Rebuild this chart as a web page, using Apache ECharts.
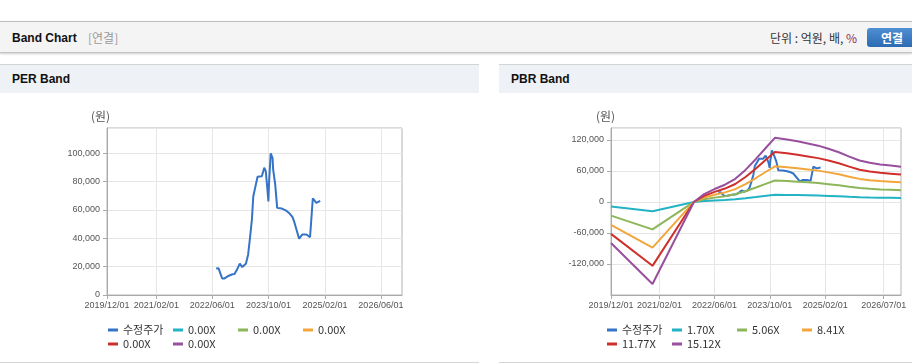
<!DOCTYPE html>
<html><head><meta charset="utf-8">
<script src="https://cdn.jsdelivr.net/npm/echarts@6/dist/echarts.min.js"></script>
<style>
html,body{margin:0;padding:0;background:#fff;width:912px;height:364px;overflow:hidden;font-family:"Liberation Sans","Noto Sans CJK KR",sans-serif;}
.a{position:absolute;}
#topbar{left:0;top:21px;width:912px;height:30px;background:#f4f4f4;border-top:1px solid #bdbdbd;border-bottom:1px solid #c4c4c4;box-shadow:0 1px 2px rgba(0,0,0,0.2);}
.ph{top:64px;height:28px;background:#eef2f7;border-top:1px solid #d3d3d3;}
.bl{top:362px;height:1px;background:#d6d6d6;}
.t{line-height:20px;white-space:nowrap;}
#c{left:0;top:0;width:912px;height:364px;z-index:2;}
</style></head><body>
<div class="a" id="topbar"></div>
<div class="a t" style="left:12px;top:28px;font-weight:bold;font-size:12px;color:#111;">Band Chart</div>
<div class="a t" style="left:88px;top:28px;font-size:12px;color:#9a9a9a;font-family:'Noto Sans CJK KR';">[연결]</div>
<div class="a t" style="left:770px;top:28px;font-size:12px;color:#333;font-family:'Noto Sans CJK KR';">단위 : 억원, 배, <span style="color:#8e2f55">%</span></div>
<div class="a t" style="left:867px;top:28px;width:50px;height:19px;line-height:19px;border-radius:3px;background:linear-gradient(#4f8fd3,#2c6ab2);color:#fff;font-weight:bold;font-size:12px;font-family:'Noto Sans CJK KR';text-align:center;">연결</div>
<div class="a ph" style="left:0;width:479px;"></div>
<div class="a ph" style="left:499px;width:413px;"></div>
<div class="a t" style="left:12px;top:69px;font-weight:bold;font-size:12px;color:#111;">PER Band</div>
<div class="a t" style="left:511px;top:69px;font-weight:bold;font-size:12px;color:#111;">PBR Band</div>
<div class="a bl" style="left:0;width:479px;"></div>
<div class="a bl" style="left:499px;width:413px;"></div>
<div class="a" id="c"></div>
<script>
// ---- data ----
const priceDates = ['2022-07-04','2022-07-25','2022-08-25','2022-09-15','2022-10-22','2022-11-22','2022-12-10','2022-12-29',
  '2023-01-25','2023-02-15','2023-02-27','2023-03-19','2023-04-07','2023-04-25','2023-05-10','2023-05-22','2023-06-07',
  '2023-06-28','2023-08-04','2023-08-25','2023-09-07','2023-09-19','2023-09-30','2023-10-06','2023-10-20','2023-11-05',
  '2023-11-10','2023-11-28','2023-12-15','2024-01-25','2024-03-03','2024-04-01','2024-04-25','2024-05-12','2024-06-22',
  '2024-07-19','2024-08-25','2024-09-25','2024-10-19','2024-11-18','2024-12-22'];
const priceValues = [18600,18800,11700,11700,13600,14600,14800,17400,
  22100,19700,18800,22100,28400,41400,53200,69600,75500,
  83300,83700,89700,87300,76700,66000,80000,99800,96500,
  88500,78000,61400,60900,59400,57400,55000,51300,39700,
  42600,42600,40700,68200,64900,66400];

const bandDates = ['2019-12-01','2020-12-01','2021-12-01','2022-03-01','2022-06-01','2022-09-01','2022-12-01','2023-03-01',
  '2023-06-01','2023-09-01','2023-11-15','2024-03-01','2024-06-01','2024-09-01','2024-12-01','2025-03-01','2025-06-01',
  '2025-09-01','2025-12-01','2026-03-01','2026-06-01','2026-09-01','2026-12-01'];
const pbrBand1 = [-8925,-17850,0,1700,2805,3740,5015,6970,9350,11900,13940,13600,13175,12716,12240,11560,10795,9860,9010,8500,8160,7905,7650];
const pbrBand2 = [-26565,-53130,0,5060,8349,11132,14927,20746,27830,35420,41492,40480,39215,37849,36432,34408,32131,29348,26818,25300,24288,23529,22770];
const pbrBand3 = [-44153,-88305,0,8410,13877,18502,24810,34481,46255,58870,68962,67280,65178,62907,60552,57188,53404,48778,44573,42050,40368,39107,37845];
const pbrBand4 = [-61793,-123585,0,11770,19421,25894,34722,48257,64735,82390,96514,94160,91218,88040,84744,80036,74740,68266,62381,58850,56496,54731,52965];
const pbrBand5 = [-79380,-158760,0,15120,24948,33264,44604,61992,83160,105840,123984,120960,117180,113098,108864,102816,96012,87696,80136,75600,72576,70308,68040];

const priceName = '수정주가';
const perBandNames = ['0.00X','0.00X','0.00X','0.00X','0.00X'];
const pbrBandNames = ['1.70X','5.06X','8.41X','11.77X','15.12X'];

const perXTicks = ['2019/12/01','2021/02/01','2022/06/01','2023/10/01','2025/02/01','2026/06/01'];
const pbrXTicks = ['2019/12/01','2021/02/01','2022/06/01','2023/10/01','2025/02/01','2026/07/01'];
const xRange = ['2019-12-01','2026-12-01'];
const perYRange = [0, 117700];
const perYStep = 20000;
const pbrYRange = [-180000, 143000];
const pbrYStep = 60000;

// ---- styling ----
const priceColor = '#3473c6';
const bandColors = ['#22b3c4','#8db65a','#f2a63b','#cf2f2b','#984f9d'];
const axisFont = {fontSize: 9, fontFamily: 'Liberation Sans', color: '#555'};

function ts(s) { const p = s.split(/[-\/]/).map(Number); return new Date(p[0], p[1] - 1, p[2]).getTime(); }
function zip(a, b) { return a.map((d, i) => [ts(d), b[i]]); }
function fmtDate(v) {
  const d = new Date(v);
  const p = n => (n < 10 ? '0' : '') + n;
  return d.getFullYear() + '/' + p(d.getMonth() + 1) + '/' + p(d.getDate());
}

const labelOf = {per_price: priceName, pbr_price: priceName};
perBandNames.forEach((n, i) => labelOf['per_b' + i] = n);
pbrBandNames.forEach((n, i) => labelOf['pbr_b' + i] = n);

function xAxis(gridIndex, ticks) {
  const vals = ticks.map(ts);
  return {
    type: 'value', gridIndex, min: ts(xRange[0]), max: ts(xRange[1]),
    axisLine: {show: true, onZero: false, lineStyle: {color: '#aaa'}},
    axisTick: {show: true, length: 4, customValues: vals, lineStyle: {color: '#aaa'}},
    axisLabel: Object.assign({customValues: vals, margin: 6, formatter: fmtDate, hideOverlap: false}, axisFont),
    splitLine: {show: true, lineStyle: {color: '#e6e6e6'}}
  };
}
function yAxis(gridIndex, range, step, showMin) {
  return {
    type: 'value', gridIndex, min: range[0], max: range[1], interval: step,
    axisLine: {show: true, lineStyle: {color: '#aaa'}},
    axisTick: {show: true, length: 4, lineStyle: {color: '#aaa'}},
    axisLabel: Object.assign({margin: 7, showMaxLabel: false, showMinLabel: showMin}, axisFont),
    splitLine: {show: true, lineStyle: {color: '#e6e6e6'}}
  };
}
function lineSeries(name, idx, data, color) {
  return {
    name, type: 'line', xAxisIndex: idx, yAxisIndex: idx, data,
    showSymbol: false, symbol: 'none', smooth: false,
    lineStyle: {width: 2, color}, itemStyle: {color}, emphasis: {disabled: true}
  };
}
function legend(left, names) {
  return {
    data: names, left, top: 323, width: 262, padding: 0, itemGap: 0,
    itemWidth: 10, itemHeight: 3, icon: 'rect', selectedMode: false,
    formatter: n => labelOf[n],
    textStyle: {fontSize: 11, fontFamily: 'Noto Sans CJK KR', color: '#333', width: 50, lineHeight: 14}
  };
}

const pbrBands = [pbrBand1, pbrBand2, pbrBand3, pbrBand4, pbrBand5];
const series = [lineSeries('per_price', 0, zip(priceDates, priceValues), priceColor)];
perBandNames.forEach((n, i) => series.push(lineSeries('per_b' + i, 0, [], bandColors[i])));
series.push(lineSeries('pbr_price', 1, zip(priceDates, priceValues), priceColor));
pbrBands.forEach((b, i) => series.push(lineSeries('pbr_b' + i, 1, zip(bandDates, b), bandColors[i])));

const chart = echarts.init(document.getElementById('c'), null, {renderer: 'canvas'});
chart.setOption({
  animation: false,
  backgroundColor: 'transparent',
  tooltip: {show: false},
  grid: [
    {left: 107, top: 128, width: 295, height: 167, show: true, backgroundColor: '#fff', borderColor: '#b4b4b4', borderWidth: 1, outerBoundsMode: 'none', containLabel: false},
    {left: 611, top: 128, width: 290, height: 167, show: true, backgroundColor: '#fff', borderColor: '#b4b4b4', borderWidth: 1, outerBoundsMode: 'none', containLabel: false}
  ],
  xAxis: [xAxis(0, perXTicks), xAxis(1, pbrXTicks)],
  yAxis: [yAxis(0, perYRange, perYStep, true), yAxis(1, pbrYRange, pbrYStep, false)],
  legend: [
    legend(108, ['per_price','per_b0','per_b1','per_b2','per_b3','per_b4']),
    legend(607, ['pbr_price','pbr_b0','pbr_b1','pbr_b2','pbr_b3','pbr_b4'])
  ],
  graphic: [
    {type: 'text', left: 91, top: 110, style: {text: '(원)', font: '12px "Noto Sans CJK KR"', fill: '#555'}},
    {type: 'text', left: 596, top: 110, style: {text: '(원)', font: '12px "Noto Sans CJK KR"', fill: '#555'}}
  ],
  series
});
</script>
</body></html>
